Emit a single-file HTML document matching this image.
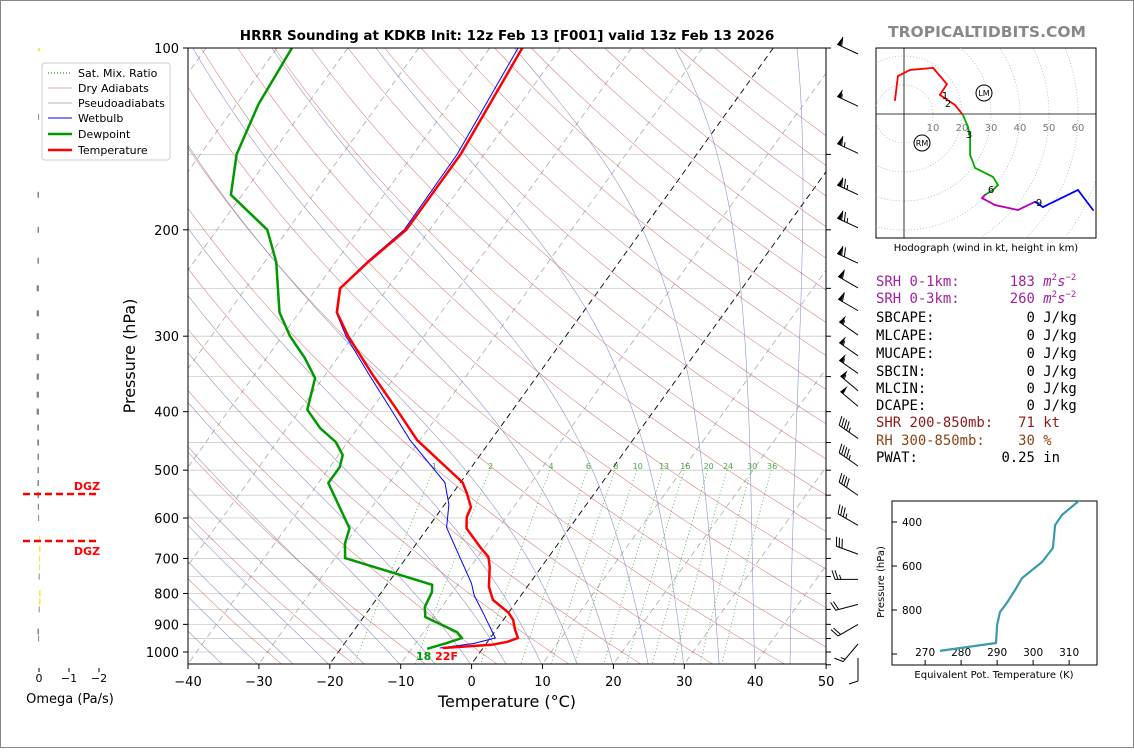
<!DOCTYPE html>
<html><head><meta charset="utf-8">
<style>
body{margin:0;background:#fff;}
svg text{font-family:"DejaVu Sans","Liberation Sans",sans-serif;}
.mono{font-family:"DejaVu Sans Mono","Liberation Mono",monospace;font-size:13.9px;}
</style></head>
<body>
<svg id="chart" width="1134" height="748" viewBox="0 0 1134 748" xmlns="http://www.w3.org/2000/svg">
<rect x="0.5" y="0.5" width="1133" height="747" fill="#fff" stroke="#888"/>
<defs><clipPath id="plotclip"><rect x="188" y="48" width="638" height="616"/></clipPath>
<clipPath id="hodoclip"><rect x="876" y="48" width="220" height="190"/></clipPath>
<clipPath id="thclip"><rect x="892" y="501" width="205" height="164"/></clipPath></defs>
<g id="bg" clip-path="url(#plotclip)"></g>
<g id="series" clip-path="url(#plotclip)"></g>
<g id="axes"></g>
<text x="507" y="40" text-anchor="middle" font-size="13.5" font-weight="bold">HRRR Sounding at KDKB Init: 12z Feb 13 [F001] valid 13z Feb 13 2026</text>
<text x="987" y="37" text-anchor="middle" font-size="15.5" font-weight="bold" fill="#888">TROPICALTIDBITS.COM</text>
<text x="507" y="707" text-anchor="middle" font-size="16">Temperature (°C)</text>
<text x="135" y="356" text-anchor="middle" font-size="16" transform="rotate(-90 135 356)">Pressure (hPa)</text>
<g>
<rect x="42" y="63" width="128" height="97" fill="#fff" stroke="#ccc" rx="3"/>
<line x1="48" y1="73" x2="72" y2="73" stroke="green" stroke-dasharray="1,2"/>
<text x="78" y="77" font-size="11">Sat. Mix. Ratio</text>
<line x1="48" y1="88" x2="72" y2="88" stroke="#c99" stroke-width="0.8"/>
<text x="78" y="92" font-size="11">Dry Adiabats</text>
<line x1="48" y1="103" x2="72" y2="103" stroke="#99a" stroke-width="0.8"/>
<text x="78" y="107" font-size="11">Pseudoadiabats</text>
<line x1="48" y1="118" x2="72" y2="118" stroke="blue" stroke-width="1"/>
<text x="78" y="122" font-size="11">Wetbulb</text>
<line x1="48" y1="134" x2="72" y2="134" stroke="#090" stroke-width="2.5"/>
<text x="78" y="138" font-size="11">Dewpoint</text>
<line x1="48" y1="150" x2="72" y2="150" stroke="red" stroke-width="2.5"/>
<text x="78" y="154" font-size="11">Temperature</text>
</g>
<g id="omega"></g>
<g id="barbs"></g>
<g id="hodo"></g>
<g>
<text class="mono" x="876" y="286" fill="#a020a0" xml:space="preserve">SRH 0-1km:      183 <tspan font-style="italic">m</tspan><tspan font-size="9" dy="-6">2</tspan><tspan dy="6" font-style="italic">s</tspan><tspan font-size="9" dy="-6">−2</tspan></text>
<text class="mono" x="876" y="303" fill="#a020a0" xml:space="preserve">SRH 0-3km:      260 <tspan font-style="italic">m</tspan><tspan font-size="9" dy="-6">2</tspan><tspan dy="6" font-style="italic">s</tspan><tspan font-size="9" dy="-6">−2</tspan></text>
<text class="mono" x="876" y="322" xml:space="preserve">SBCAPE:           0 J/kg</text>
<text class="mono" x="876" y="340" xml:space="preserve">MLCAPE:           0 J/kg</text>
<text class="mono" x="876" y="358" xml:space="preserve">MUCAPE:           0 J/kg</text>
<text class="mono" x="876" y="376" xml:space="preserve">SBCIN:            0 J/kg</text>
<text class="mono" x="876" y="393" xml:space="preserve">MLCIN:            0 J/kg</text>
<text class="mono" x="876" y="410" xml:space="preserve">DCAPE:            0 J/kg</text>
<text class="mono" x="876" y="427" xml:space="preserve" fill="#8b1a1a">SHR 200-850mb:   71 kt</text>
<text class="mono" x="876" y="445" xml:space="preserve" fill="#8b4513">RH 300-850mb:    30 %</text>
<text class="mono" x="876" y="462" xml:space="preserve">PWAT:          0.25 in</text>
</g>
<g id="theta"></g>
</svg>
<script>
// ---- data ----
const tempP = [100,150,200,226,250,274,300,347,400,446,524,546,576,598,624,670,696,723,780,820,861,885,920,948,962,973,985];
const tempT = [-55.4,-53.3,-53.3,-55.4,-56.7,-54.7,-50.7,-43.4,-36.0,-30.4,-19.7,-18.0,-16.0,-15.6,-14.5,-10.7,-8.5,-7.3,-5.4,-3.5,0.0,1.4,2.7,3.9,2.8,0.9,-5.7];
const dewP = [100,124,150,175,200,226,274,300,326,352,397,426,449,472,494,525,624,661,699,774,796,842,875,927,948,966,988];
const dewT = [-87.9,-86.9,-84.9,-81.6,-72.9,-68.4,-62.8,-58.9,-54.6,-51.1,-49.0,-45.3,-41.7,-39.4,-38.6,-38.6,-31.0,-30.1,-28.6,-13.6,-12.9,-12.4,-11.3,-5.3,-4.0,-5.6,-7.8];
const wbP = [100,150,200,226,250,274,300,347,400,446,524,570,622,770,806,861,948,968,985];
const wbT = [-56.0,-53.8,-53.6,-55.6,-56.8,-54.8,-51.0,-43.9,-36.8,-31.4,-22.2,-19.4,-17.4,-8.2,-6.6,-3.6,0.7,-1.8,-6.1];
const mixRatios = [1,2,4,6,8,10,13,16,20,24,30,36];
const pTicks = [100,200,300,400,500,600,700,800,900,1000];
const tTicks = [-40,-30,-20,-10,0,10,20,30,40,50];
const omegaP = [130,175,200,225,250,275,300,325,350,375,400,425,450,475,500,525,550,575,600,650,675,700,725,750,800,825,850,925,950];
const omegaV = [0.03,0.05,0.05,0.05,0.08,0.08,0.08,0.08,0.08,0.08,0.08,0.06,0.06,0.05,0.05,0.05,0.05,0.04,0.03,-0.03,-0.05,-0.03,-0.01,0.01,-0.05,-0.05,0.01,0.05,0.03];
const barbP = [100,122,146,171,194,222,244,266,292,316,338,361,383,433,481,538,603,673,741,815,880,948,1000];
const barbSpd = [60,55,65,75,75,70,60,60,55,55,55,55,50,45,45,40,35,30,25,20,20,15,10];
const barbDir = [295,295,295,295,295,295,300,300,305,305,305,310,310,305,305,305,300,290,270,255,240,220,180];
const hodoU = [-3.1,-2.1,2.1,10,14.8,12.4,17.6,20.3,22.1,22.8,22.8,24.5,30.7,32.4,30.7,27.9,26.9,31.4,39.3,45.2,47.9,60,65.2];
const hodoV = [4.8,13.1,15.2,15.9,10.3,6.6,3.1,-0.3,-4.5,-8.3,-14.1,-18.6,-21.7,-24.5,-26.2,-27.9,-29.0,-31.4,-33.1,-30.3,-32.1,-26.2,-33.1];
const hodoSeg = ['red','red','red','red','red','red','red','red','#0a0','#0a0','#0a0','#0a0','#0a0','#0a0','#0a0','#0a0','#b0b','#b0b','#b0b','#b0b','blue','blue','blue'];
const thetaE = [274.1,289.7,290.0,290.8,292.7,295.0,296.9,302.5,305.5,306.1,308.0,313.0];
const thetaP = [986,950,868,809,768,709,655,582,518,414,368,300];

// ---- axes functions ----
const NS='http://www.w3.org/2000/svg';
function yP(p){return 48+(Math.log10(p)-2)*604;}
function xT(t,p){return 188+(t+40)*7.09+0.72*(664-yP(p));}
function mk(tag,attrs,parent){const e=document.createElementNS(NS,tag);for(const k in attrs)e.setAttribute(k,attrs[k]);parent.appendChild(e);return e;}
const bg=document.getElementById('bg'),ser=document.getElementById('series'),ax=document.getElementById('axes');
function poly(ps,ts,parent,attrs){let d='';for(let i=0;i<ps.length;i++)d+=(i?'L':'M')+xT(ts[i],ps[i]).toFixed(1)+','+yP(ps[i]).toFixed(1);attrs.d=d;attrs.fill='none';return mk('path',attrs,parent);}
for(let p=100;p<=1050;p+=50){const l=mk('line',{x1:188,x2:826,y1:yP(p),y2:yP(p),stroke:'#ccc','stroke-width':0.8},bg);}
for(let t=-130;t<=50;t+=10){const e=poly([100,1050],[t,t],bg,{stroke:(t===0||t===-20)?'#000':'#aaa','stroke-width':(t===0||t===-20)?0.9:0.8,'stroke-dasharray':'6,4'});}
for(let th=-30;th<=200;th+=10){const ps=[],ts=[];for(let p=100;p<=1050;p+=10){ps.push(p);ts.push((th+273.15)*Math.pow(p/1000,0.286)-273.15);}const e=poly(ps,ts,bg,{stroke:'#c66','stroke-width':0.55,opacity:0.85});}
function es(t){return 6.112*Math.exp(17.67*t/(t+243.5));}
for(let t0=-40;t0<=45;t0+=5){let T=t0+273.15,p=1050;const ps=[p],ts=[t0];while(p>100){const rs=0.622*es(T-273.15)/(p-es(T-273.15));const dTdp=(287*T+2.5e6*rs)/(1004+2.5e6*2.5e6*rs*0.622/(287*T*T))/p;T-=dTdp*5;p-=5;ps.push(p);ts.push(T-273.15);}const e=poly(ps,ts,bg,{stroke:'#77b','stroke-width':0.6,opacity:0.8});}
mixRatios.forEach(w=>{const ps=[],ts=[];for(let p=500;p<=1050;p+=25){const e=w*p/(622+w);const l=Math.log(e/6.112);ps.push(p);ts.push(243.5*l/(17.67-l));}const e=poly(ps,ts,bg,{stroke:'#4a4','stroke-width':0.8,'stroke-dasharray':'1,2.5'});
const t=mk('text',{x:xT(ts[0],500)+1,y:yP(500)-1,'font-size':8,fill:'#4a4','text-anchor':'middle'},ser);t.textContent=w;});
let e=poly(wbP,wbT,ser,{stroke:'blue','stroke-width':1});
e=poly(dewP,dewT,ser,{stroke:'#090','stroke-width':2.5,'stroke-linejoin':'round'});
e=poly(tempP,tempT,ser,{stroke:'red','stroke-width':2.5,'stroke-linejoin':'round'});
const sfc=mk('text',{x:437,y:660,'font-size':11,'font-weight':'bold','text-anchor':'middle'},ax);
sfc.innerHTML='<tspan fill="#090">18</tspan> <tspan fill="red">22F</tspan>';
e=mk('rect',{x:188,y:48,width:638,height:616,fill:'none',stroke:'#000','stroke-width':1},ax);
for(let p=100;p<=1050;p+=50){mk('line',{x1:826,x2:831,y1:yP(p),y2:yP(p),stroke:'#000'},ax);}
pTicks.forEach(p=>{mk('line',{x1:183,x2:188,y1:yP(p),y2:yP(p),stroke:'#000'},ax);const t=mk('text',{x:179,y:yP(p)+5,'font-size':13,'text-anchor':'end'},ax);t.textContent=p;});
tTicks.forEach(v=>{const x=188+(v+40)*7.09;mk('line',{x1:x,x2:x,y1:664,y2:669,stroke:'#000'},ax);const t=mk('text',{x:x,y:686,'font-size':13,'text-anchor':'middle'},ax);t.textContent=v<0?'\u2212'+(-v):v;});
// omega
const om=document.getElementById('omega');
const oX=v=>39-v*30;
omegaP.forEach((p,i)=>{const v=omegaV[i];const x1=oX(0),x2=oX(v);const r=mk('rect',{x:Math.min(x1,x2),y:yP(p)-3,width:Math.max(1,Math.abs(x2-x1)),height:6,fill:v>=0?'#888':'#ee3'},om);});
mk('line',{x1:23,x2:99,y1:494,y2:494,stroke:'red','stroke-width':2.5,'stroke-dasharray':'7,4'},om);
mk('line',{x1:23,x2:99,y1:541,y2:541,stroke:'red','stroke-width':2.5,'stroke-dasharray':'7,4'},om);
[[87,490],[87,555]].forEach(q=>{const t=mk('text',{x:q[0],y:q[1],'font-size':11,'font-weight':'bold',fill:'red','text-anchor':'middle'},om);t.textContent='DGZ';});
mk('rect',{x:38,y:48,width:2,height:3,fill:'#ee3'},om);
[0,-1,-2].forEach(v=>{mk('line',{x1:oX(v),x2:oX(v),y1:668,y2:672,stroke:'#000'},om);const t=mk('text',{x:oX(v),y:682,'font-size':11,'text-anchor':'middle'},om);t.textContent=v<0?'\u2212'+(-v):v;});
let ot=mk('text',{x:70,y:703,'font-size':13,'text-anchor':'middle'},om);ot.textContent='Omega (Pa/s)';
// barbs
const bb=document.getElementById('barbs');
barbP.forEach((p,i)=>{const sx=858,sy=yP(p)+6;const a=barbDir[i]*Math.PI/180;const dx=Math.sin(a),dy=-Math.cos(a);const px=-dy,py=dx;const L=23;
const g=mk('g',{},bb);
mk('line',{x1:sx,y1:sy,x2:sx+dx*L,y2:sy+dy*L,stroke:'#000','stroke-width':1},g);
let s=Math.round(barbSpd[i]/5)*5,pos=L;
while(s>=50){const bx=sx+dx*pos,by=sy+dy*pos;mk('polygon',{points:`${bx},${by} ${bx+px*9-dx*2},${by+py*9-dy*2} ${bx-dx*4},${by-dy*4}`,fill:'#000'},g);pos-=5;s-=50;}
while(s>=10){const bx=sx+dx*pos,by=sy+dy*pos;mk('line',{x1:bx,y1:by,x2:bx+px*9+dx*3,y2:by+py*9+dy*3,stroke:'#000'},g);pos-=3;s-=10;}
if(s>=5){if(pos===L)pos-=3;const bx=sx+dx*pos,by=sy+dy*pos;mk('line',{x1:bx,y1:by,x2:bx+px*4.5+dx*1.5,y2:by+py*4.5+dy*1.5,stroke:'#000'},g);}
});
// hodograph
const hd=document.getElementById('hodo');
const hx=u=>904+u*2.9,hy=v=>114-v*2.9;
mk('rect',{x:876,y:48,width:220,height:190,fill:'none',stroke:'#000'},hd);
const hc=mk('g',{'clip-path':'url(#hodoclip)'},hd);
for(let r=10;r<=80;r+=10){mk('circle',{cx:904,cy:114,r:r*2.9,fill:'none',stroke:'#aaa','stroke-width':0.7,'stroke-dasharray':'1,2'},hc);}
mk('line',{x1:876,x2:1096,y1:114,y2:114,stroke:'#000','stroke-width':0.8},hc);
mk('line',{x1:904,x2:904,y1:48,y2:238,stroke:'#000','stroke-width':0.8},hc);
[10,20,30,40,50,60].forEach(r=>{const t=mk('text',{x:hx(r),y:131,'font-size':10,fill:'#777','text-anchor':'middle'},hc);t.textContent=r;});
for(let i=0;i<hodoU.length-1;i++){const l=mk('line',{x1:hx(hodoU[i]),y1:hy(hodoV[i]),x2:hx(hodoU[i+1]),y2:hy(hodoV[i+1]),stroke:hodoSeg[i+1],'stroke-width':1.8,'stroke-linecap':'round'},hc);}
[['1',945,99],['2',948,107],['3',969,138],['6',991,193],['9',1039,206]].forEach(q=>{const t=mk('text',{x:q[1],y:q[2],'font-size':10,'text-anchor':'middle'},hc);t.textContent=q[0];});
[['LM',984,93],['RM',922,143]].forEach(q=>{mk('circle',{cx:q[1],cy:q[2],r:8,fill:'#fff',stroke:'#000'},hc);const t=mk('text',{x:q[1],y:q[2]+3,'font-size':8,'text-anchor':'middle'},hc);t.textContent=q[0];});
let ht=mk('text',{x:986,y:251,'font-size':10,'text-anchor':'middle'},hd);ht.textContent='Hodograph (wind in kt, height in km)';
// theta-e
const th=document.getElementById('theta');
const tX=v=>892+(v-260.8)*3.6,tY=p=>500+(p-300)*0.22;
mk('rect',{x:892,y:501,width:205,height:164,fill:'none',stroke:'#000'},th);
[400,600,800,1000].forEach(p=>{mk('line',{x1:892,x2:897,y1:tY(p),y2:tY(p),stroke:'#000'},th);if(p<1000){const t=mk('text',{x:902,y:tY(p)+4,'font-size':10.5},th);t.textContent=p;}});
[270,280,290,300,310].forEach(v=>{mk('line',{x1:tX(v),x2:tX(v),y1:665,y2:660,stroke:'#000'},th);const t=mk('text',{x:tX(v),y:656,'font-size':10.5,'text-anchor':'middle'},th);t.textContent=v;});
let d='';thetaE.forEach((v,i)=>{d+=(i?'L':'M')+tX(v).toFixed(1)+','+tY(thetaP[i]).toFixed(1);});
const tl=mk('path',{d:d,fill:'none',stroke:'#3a9ab0','stroke-width':2.2,'clip-path':'url(#thclip)'},th);
let tt=mk('text',{x:994,y:678,'font-size':10,'text-anchor':'middle'},th);tt.textContent='Equivalent Pot. Temperature (K)';
tt=mk('text',{x:884,y:582,'font-size':10,'text-anchor':'middle',transform:'rotate(-90 884 582)'},th);tt.textContent='Pressure (hPa)';
</script>
</body></html>
